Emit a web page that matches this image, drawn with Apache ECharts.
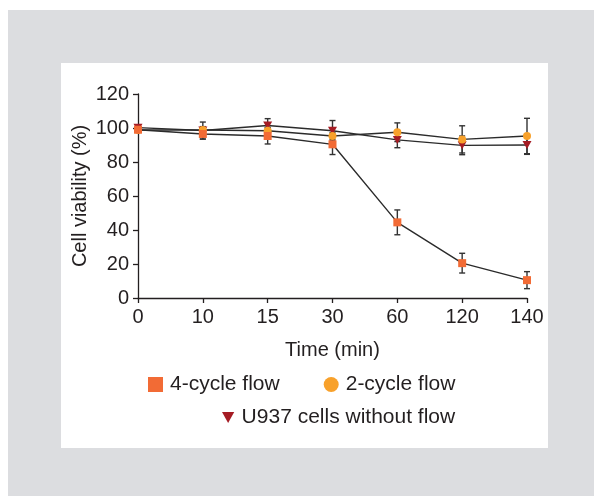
<!DOCTYPE html>
<html>
<head>
<meta charset="utf-8">
<script src="https://cdn.jsdelivr.net/npm/echarts@6/dist/echarts.min.js"></script>
<style>
html,body{margin:0;padding:0;background:#fff;}
#chart{width:594px;height:496px;}
</style>
</head>
<body>
<div id="chart"></div>
<script>
var categories = ['0', '10', '15', '30', '60', '120', '140'];
var flow4 = [99, 96.5, 95.3, 90.4, 44.5, 20.5, 10.5];
var flow4Err = [1, 3, 4.7, 6, 7.3, 5.8, 5];
var flow2 = [98.8, 98.8, 98.4, 95.3, 97.5, 93.3, 95.3];
var flow2Err = [1, 2, 2, 2, 5.5, 8, 10.4];
var ctrl = [100.2, 98.5, 101.5, 98.4, 93, 89.8, 90];
var ctrlErr = [1, 5, 4, 6, 4.6, 5.5, 5.5];
var yTicks = [0, 20, 40, 60, 80, 100, 120];

var FONT = "'Liberation Sans', Arial, sans-serif";
var TXT = '#231f20';
var C4 = '#f26b35', C2 = '#f8a12b', CU = '#a51c24';
var TRI = 'path://M0,0 L10,0 L5,9 Z';

function errSeries(vals, errs) {
  return {
    type: 'custom',
    silent: true,
    z: 1,
    data: vals.map(function (v, i) { return [i, v - errs[i], v + errs[i]]; }),
    renderItem: function (params, api) {
      var lo = api.coord([api.value(0), api.value(1)]);
      var hi = api.coord([api.value(0), api.value(2)]);
      var w = 3;
      var st = { stroke: '#333', lineWidth: 1.4 };
      return {
        type: 'group',
        children: [
          { type: 'line', shape: { x1: lo[0], y1: lo[1], x2: hi[0], y2: hi[1] }, style: st },
          { type: 'line', shape: { x1: lo[0] - w, y1: lo[1], x2: lo[0] + w, y2: lo[1] }, style: st },
          { type: 'line', shape: { x1: hi[0] - w, y1: hi[1], x2: hi[0] + w, y2: hi[1] }, style: st }
        ]
      };
    }
  };
}

var chart = echarts.init(document.getElementById('chart'), null, { renderer: 'canvas' });
chart.setOption({
  animation: false,
  backgroundColor: '#fff',
  textStyle: { fontFamily: FONT, color: TXT },
  graphic: [
    { type: 'rect', z: -10, silent: true, shape: { x: 8, y: 10, width: 586, height: 486 }, style: { fill: '#dcdde0' } },
    { type: 'rect', z: -9, silent: true, shape: { x: 61, y: 63, width: 487, height: 385 }, style: { fill: '#ffffff' } }
  ],
  grid: { left: 138, right: 67, top: 94, bottom: 198, containLabel: false },
  xAxis: {
    type: 'category',
    data: categories,
    boundaryGap: false,
    name: 'Time (min)',
    nameLocation: 'middle',
    nameGap: 42,
    nameTextStyle: { fontFamily: FONT, fontSize: 20, color: TXT },
    axisLine: { lineStyle: { color: TXT, width: 1.3 } },
    axisTick: { show: true, length: 5, inside: false, alignWithLabel: true, lineStyle: { color: TXT, width: 1.3 } },
    axisLabel: { fontFamily: FONT, fontSize: 20, color: TXT, margin: 9 },
    splitLine: { show: false }
  },
  yAxis: {
    type: 'value',
    min: yTicks[0],
    max: yTicks[yTicks.length - 1],
    interval: 20,
    name: 'Cell viability (%)',
    nameLocation: 'middle',
    nameGap: 48,
    nameMoveOverlap: false,
    nameTextStyle: { fontFamily: FONT, fontSize: 20, color: TXT },
    axisLine: { show: true, lineStyle: { color: TXT, width: 1.3 } },
    axisTick: { show: true, length: 5, lineStyle: { color: TXT, width: 1.3 } },
    axisLabel: { fontFamily: FONT, fontSize: 20, color: TXT, margin: 9 },
    splitLine: { show: false }
  },
  legend: [
    {
      left: 148, top: 374, padding: 0,
      itemWidth: 15, itemHeight: 15, itemGap: 44,
      selectedMode: false,
      textStyle: { fontFamily: FONT, fontSize: 21, color: TXT, padding: [0, 0, 0, 2] },
      data: [
        { name: '4-cycle flow', icon: 'rect' },
        { name: '2-cycle flow', icon: 'circle' }
      ]
    },
    {
      left: 222, top: 407, padding: 0,
      itemWidth: 13, itemHeight: 11, itemGap: 10,
      selectedMode: false,
      textStyle: { fontFamily: FONT, fontSize: 21, color: TXT, padding: [0, 0, 0, 2] },
      data: [ { name: 'U937 cells without flow', icon: TRI } ]
    }
  ],
  series: [
    errSeries(ctrl, ctrlErr),
    errSeries(flow2, flow2Err),
    errSeries(flow4, flow4Err),
    {
      name: 'U937 cells without flow', type: 'line', data: ctrl, z: 3,
      symbol: TRI, symbolSize: [9, 8], showSymbol: true,
      lineStyle: { color: '#2b2b2b', width: 1.4 },
      itemStyle: { color: CU, borderWidth: 0 }
    },
    {
      name: '2-cycle flow', type: 'line', data: flow2, z: 4,
      symbol: 'circle', symbolSize: 8,
      lineStyle: { color: '#2b2b2b', width: 1.4 },
      itemStyle: { color: C2, borderWidth: 0 }
    },
    {
      name: '4-cycle flow', type: 'line', data: flow4, z: 5,
      symbol: 'rect', symbolSize: 8,
      lineStyle: { color: '#2b2b2b', width: 1.4 },
      itemStyle: { color: C4, borderWidth: 0 }
    }
  ]
});
</script>
</body>
</html>
